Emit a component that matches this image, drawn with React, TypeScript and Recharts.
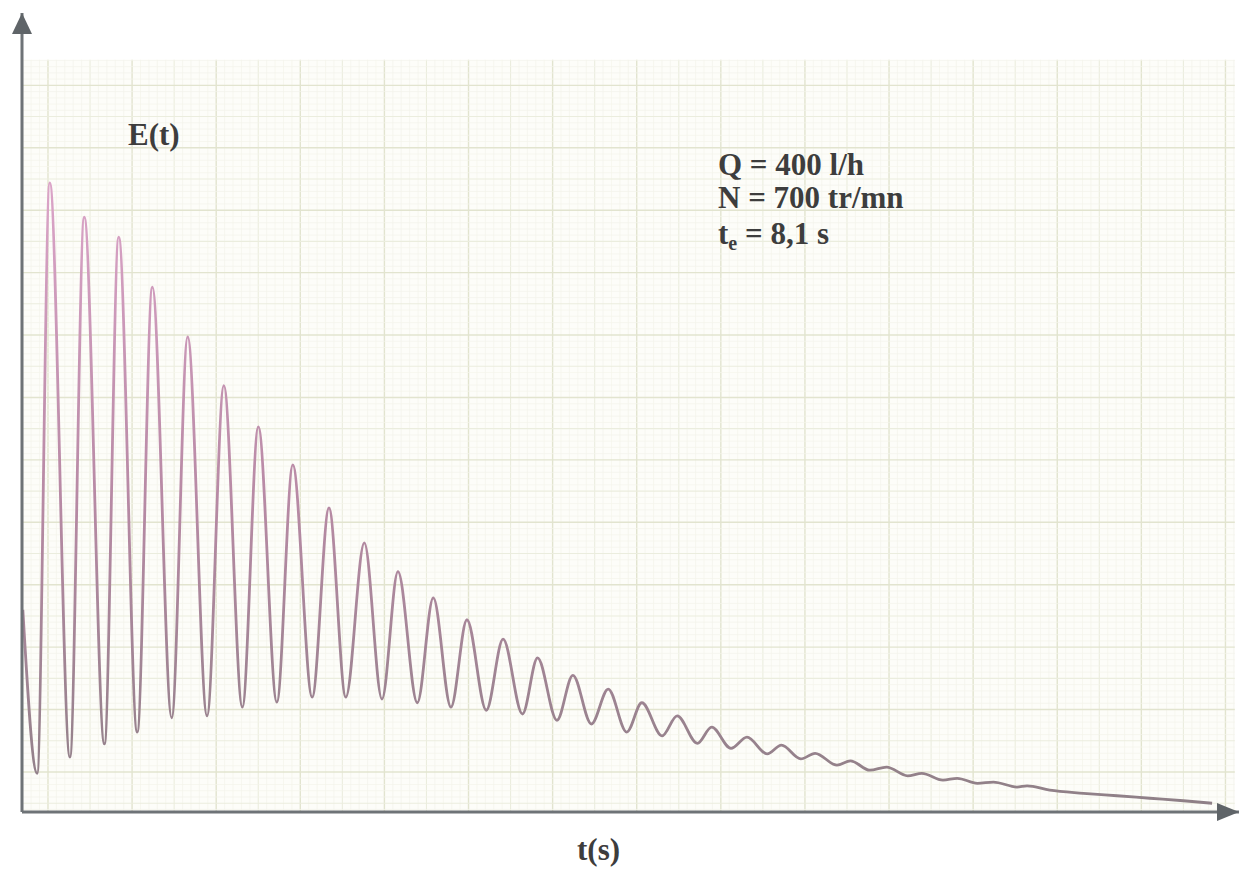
import React from "react";
import {
  LineChart,
  Line,
  XAxis,
  YAxis,
  ReferenceLine,
  ReferenceArea,
  ReferenceDot,
} from "recharts";

// time (paper units, 1 unit = 1 mm division) and E(t)
const T_VALUES = [
  0.1, 1.8, 3.3, 5.7, 7.4, 9.8, 11.5, 13.7, 15.5, 17.8, 19.7, 22.0, 24.0, 26.2,
  28.1, 30.3, 32.2, 34.5, 36.5, 38.5, 40.7, 42.8, 44.7, 47.0, 48.9, 51.0, 52.9,
  55.2, 57.2, 59.5, 61.3, 63.6, 65.5, 67.7, 69.7, 71.9, 73.7, 76.1, 77.9, 80.3,
  82.0, 84.3, 86.2, 88.6, 90.3, 92.6, 94.3, 96.9, 98.5, 100.8, 102.8, 105.3,
  107.0, 109.5, 111.2, 113.6, 115.5, 118.3, 119.5, 122.2, 126.2, 130.2, 134.1,
  138.1, 141.5,
];
const E_VALUES = [
  32.4, 6.2, 100.8, 8.8, 95.3, 10.9, 92.1, 12.8, 84.1, 15.1, 76.1, 15.4, 68.3,
  16.8, 61.7, 17.6, 55.6, 18.4, 48.7, 18.4, 43.1, 18.1, 38.5, 17.5, 34.3, 16.8,
  30.8, 16.3, 27.7, 15.7, 24.7, 14.7, 21.9, 14.1, 19.7, 12.8, 17.5, 12.2, 15.4,
  11.0, 13.6, 10.2, 12.0, 9.3, 10.7, 8.5, 9.4, 7.5, 8.2, 6.7, 7.2, 5.8, 6.2,
  5.1, 5.4, 4.6, 4.8, 4.0, 4.2, 3.5, 3.0, 2.6, 2.2, 1.8, 1.4,
];

const PARAMS = ["Q = 400 l/h", "N = 700 tr/mn"];

const data = T_VALUES.map((t, i) => ({ t, e: E_VALUES[i] }));

// graph paper
const X_MAX = 144.7;
const Y_MAX = 128;
const PAPER_RIGHT = 144.2;
const PAPER_TOP = 120.5;
const GRID_X0 = 3.09;
const GRID_Y0 = 6.41;

const range = (start: number, end: number, step: number) => {
  const out: number[] = [];
  for (let v = start; v <= end + 1e-6; v += step) out.push(+v.toFixed(3));
  return out;
};

const gridLevel = (v: number, origin: number) => {
  const k = Math.round(v - origin);
  if (k % 10 === 0) return { stroke: "#e2e4cf", width: 1.4 };
  if (k % 5 === 0) return { stroke: "#ebedde", width: 1.1 };
  return { stroke: "#f3f4eb", width: 0.7 };
};

const xGrid = range(GRID_X0 - 3, PAPER_RIGHT, 1);
const yGrid = range(GRID_Y0 - 6, PAPER_TOP, 1);

const AXIS = "#6e7377";

const UpArrow = (p: any) => (
  <polygon
    points={`${p.cx},${p.cy} ${p.cx - 10},${p.cy + 21} ${p.cx + 10},${p.cy + 21}`}
    fill="#5f6468"
  />
);
const RightArrow = (p: any) => (
  <polygon
    points={`${p.cx},${p.cy} ${p.cx - 22},${p.cy - 9} ${p.cx - 22},${p.cy + 9}`}
    fill="#5f6468"
  />
);

const textStyle: React.CSSProperties = {
  fontFamily: "'Liberation Serif', 'DejaVu Serif', serif",
  fontWeight: 700,
  fontSize: 31,
  fill: "#3d3d3d",
};

export default function App() {
  return (
    <div
      style={{
        position: "absolute",
        left: 0,
        top: 0,
        width: 1247,
        height: 870,
        background: "#ffffff",
      }}
    >
      <LineChart
        width={1247}
        height={870}
        data={data}
        margin={{ top: 13, right: 8, bottom: 58, left: 22 }}
      >
        <defs>
          <linearGradient id="curveGrad" x1="0" y1="0" x2="0" y2="1">
            <stop offset="0%" stopColor="#dba4c8" />
            <stop offset="50%" stopColor="#b88aa5" />
            <stop offset="100%" stopColor="#8f8087" />
          </linearGradient>
        </defs>
        <XAxis
          dataKey="t"
          type="number"
          domain={[0, X_MAX]}
          allowDataOverflow
          height={0}
          tick={false}
          tickLine={false}
          axisLine={false}
        />
        <YAxis
          type="number"
          domain={[0, Y_MAX]}
          allowDataOverflow
          width={0}
          tick={false}
          tickLine={false}
          axisLine={false}
        />
        <ReferenceArea
          x1={0}
          x2={PAPER_RIGHT}
          y1={0}
          y2={PAPER_TOP}
          fill="#fdfdf9"
          fillOpacity={1}
          stroke="none"
        />
        {xGrid.map((v) => {
          const g = gridLevel(v, GRID_X0);
          return (
            <ReferenceLine
              key={`x${v}`}
              segment={[
                { x: v, y: 0 },
                { x: v, y: PAPER_TOP },
              ]}
              stroke={g.stroke}
              strokeWidth={g.width}
            />
          );
        })}
        {yGrid.map((v) => {
          const g = gridLevel(v, GRID_Y0);
          return (
            <ReferenceLine
              key={`y${v}`}
              segment={[
                { x: 0, y: v },
                { x: PAPER_RIGHT, y: v },
              ]}
              stroke={g.stroke}
              strokeWidth={g.width}
            />
          );
        })}
        <Line
          type="monotone"
          dataKey="e"
          stroke="url(#curveGrad)"
          strokeWidth={2.8}
          dot={false}
          isAnimationActive={false}
        />
        <ReferenceLine x={0} stroke={AXIS} strokeWidth={3} ifOverflow="visible" />
        <ReferenceLine y={0} stroke={AXIS} strokeWidth={3} ifOverflow="visible" />
        <ReferenceDot x={0} y={Y_MAX} r={0} ifOverflow="visible" shape={UpArrow} />
        <ReferenceDot x={X_MAX} y={0} r={0} ifOverflow="visible" shape={RightArrow} />
      </LineChart>
      <svg
        width={1247}
        height={870}
        style={{ position: "absolute", left: 0, top: 0, pointerEvents: "none" }}
      >
        <text x={128} y={145} style={textStyle}>
          E(t)
        </text>
        {PARAMS.map((s, i) => (
          <text key={s} x={718} y={175 + i * 33} style={textStyle}>
            {s}
          </text>
        ))}
        <text x={718} y={244} style={textStyle}>
          t
          <tspan fontSize={20} dy={6}>
            e
          </tspan>
          <tspan dy={-6}> = 8,1 s</tspan>
        </text>
        <text x={577} y={860} style={textStyle}>
          t(s)
        </text>
      </svg>
    </div>
  );
}
